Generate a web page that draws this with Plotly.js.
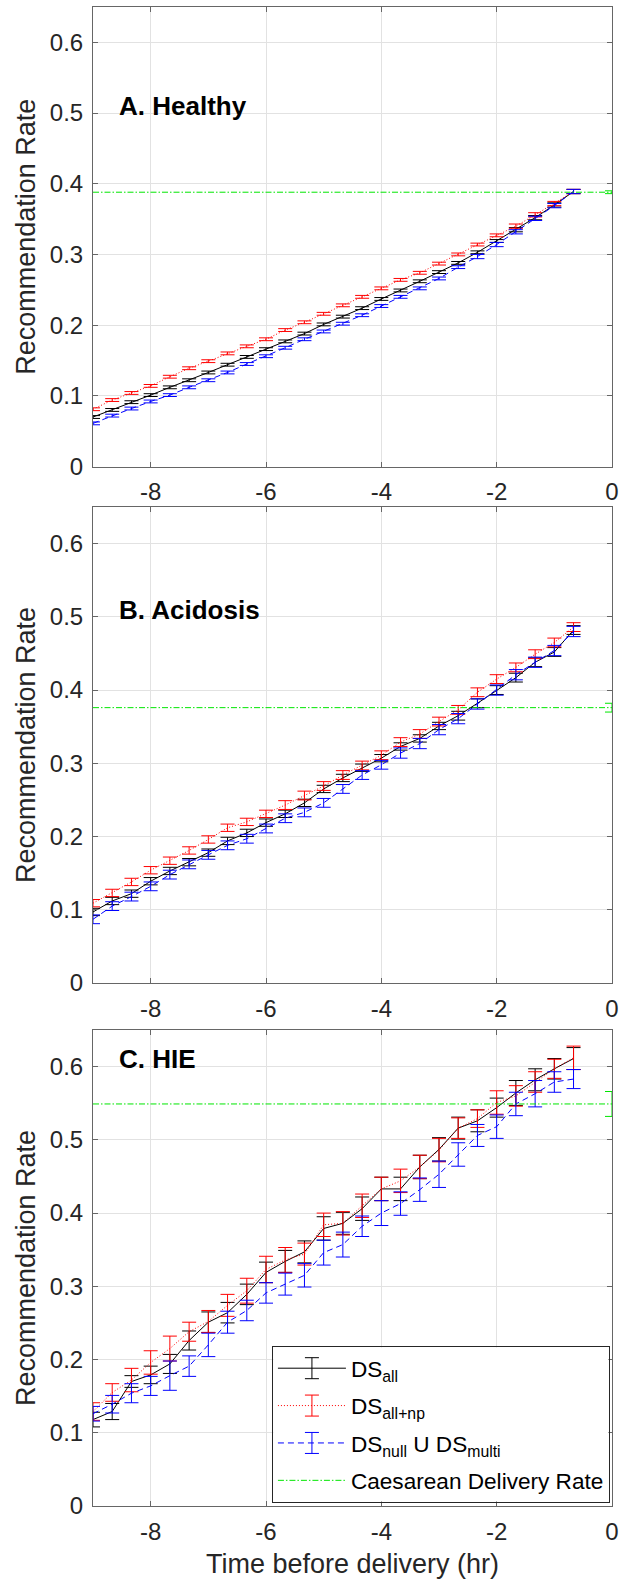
<!DOCTYPE html>
<html>
<head>
<meta charset="utf-8">
<script src="https://cdn.plot.ly/plotly-3.0.1.min.js"></script>
<style>html,body{margin:0;padding:0;background:#fff;} #chart{width:624px;height:1583px;}</style>
</head>
<body>
<div id="chart"></div>
<script>
// ---- data ----
const hours = [-9, -8.667, -8.333, -8, -7.667, -7.333, -7, -6.667, -6.333, -6, -5.667, -5.333, -5,
               -4.667, -4.333, -4, -3.667, -3.333, -3, -2.667, -2.333, -2, -1.667, -1.333, -1, -0.667];
const xTicks = [-8, -6, -4, -2, 0];
const panelTitles = ['A. Healthy', 'B. Acidosis', 'C. HIE'];
const seriesNames = ['DS<sub>all</sub>', 'DS<sub>all+np</sub>', 'DS<sub>null</sub> U DS<sub>multi</sub>', 'Caesarean Delivery Rate'];

// A. Healthy
const healthyAll   = [0.070,0.080,0.091,0.101,0.112,0.122,0.133,0.144,0.155,0.166,0.177,0.188,0.201,0.212,0.224,0.237,0.249,0.262,0.275,0.288,0.303,0.319,0.335,0.352,0.370,0.389];
const healthyAllNp = [0.081,0.094,0.104,0.114,0.127,0.139,0.149,0.160,0.170,0.180,0.193,0.204,0.216,0.228,0.240,0.252,0.264,0.274,0.287,0.300,0.314,0.327,0.340,0.356,0.372,0.389];
const healthyNull  = [0.061,0.072,0.082,0.092,0.101,0.112,0.122,0.133,0.145,0.156,0.168,0.180,0.191,0.202,0.214,0.227,0.240,0.252,0.266,0.282,0.297,0.314,0.332,0.351,0.369,0.389];
const healthyAllErr   = [0.002,0.002,0.002,0.002,0.002,0.002,0.002,0.002,0.002,0.002,0.002,0.002,0.002,0.002,0.002,0.002,0.002,0.002,0.002,0.002,0.002,0.002,0.003,0.003,0.003,0.003];
const healthyAllNpErr = [0.002,0.002,0.002,0.002,0.002,0.002,0.002,0.002,0.002,0.002,0.002,0.002,0.002,0.002,0.002,0.002,0.002,0.002,0.002,0.002,0.002,0.002,0.003,0.003,0.003,0.003];
const healthyNullErr  = [0.002,0.002,0.002,0.002,0.002,0.002,0.002,0.002,0.002,0.002,0.002,0.002,0.002,0.002,0.002,0.002,0.002,0.002,0.002,0.002,0.003,0.003,0.003,0.003,0.003,0.003];

// B. Acidosis
const acidAll   = [0.097,0.112,0.122,0.139,0.153,0.165,0.178,0.194,0.205,0.219,0.231,0.246,0.265,0.280,0.294,0.307,0.323,0.334,0.351,0.365,0.382,0.400,0.417,0.438,0.452,0.482];
const acidAllNp = [0.109,0.123,0.138,0.154,0.167,0.181,0.196,0.212,0.220,0.231,0.243,0.256,0.269,0.284,0.297,0.311,0.329,0.340,0.357,0.373,0.397,0.415,0.431,0.449,0.465,0.486];
const acidNull  = [0.087,0.105,0.118,0.132,0.148,0.162,0.175,0.188,0.197,0.211,0.225,0.233,0.246,0.265,0.284,0.298,0.314,0.327,0.346,0.361,0.381,0.400,0.421,0.438,0.454,0.480];
const acidAllErr   = [0.005,0.005,0.005,0.005,0.005,0.005,0.005,0.005,0.005,0.005,0.005,0.005,0.005,0.005,0.005,0.005,0.005,0.005,0.005,0.006,0.006,0.006,0.006,0.006,0.006,0.006];
const acidAllNpErr = [0.005,0.005,0.005,0.005,0.005,0.005,0.005,0.005,0.005,0.005,0.006,0.006,0.006,0.006,0.006,0.006,0.006,0.006,0.006,0.006,0.006,0.006,0.006,0.006,0.006,0.006];
const acidNullErr  = [0.006,0.006,0.006,0.006,0.006,0.006,0.006,0.006,0.006,0.006,0.006,0.006,0.006,0.006,0.006,0.006,0.007,0.007,0.007,0.007,0.007,0.007,0.007,0.007,0.007,0.007];

// C. HIE
const hieAll   = [0.118,0.129,0.170,0.179,0.194,0.226,0.251,0.264,0.289,0.319,0.334,0.347,0.379,0.386,0.406,0.433,0.433,0.463,0.487,0.516,0.526,0.544,0.564,0.582,0.597,0.611];
const hieAllNp = [0.129,0.155,0.172,0.196,0.215,0.238,0.252,0.274,0.294,0.323,0.336,0.344,0.384,0.386,0.410,0.433,0.444,0.463,0.486,0.516,0.529,0.551,0.560,0.579,0.597,0.612];
const hieNull  = [0.126,0.139,0.154,0.164,0.178,0.191,0.220,0.251,0.267,0.291,0.303,0.315,0.346,0.357,0.382,0.400,0.413,0.432,0.453,0.480,0.506,0.518,0.549,0.563,0.579,0.583];
const hieAllErr   = [0.010,0.011,0.008,0.012,0.013,0.013,0.014,0.014,0.014,0.014,0.015,0.015,0.016,0.015,0.016,0.016,0.016,0.016,0.016,0.015,0.015,0.013,0.017,0.015,0.014,0.015];
const hieAllNpErr = [0.012,0.012,0.016,0.016,0.017,0.013,0.015,0.015,0.017,0.018,0.017,0.015,0.016,0.016,0.016,0.016,0.016,0.016,0.016,0.014,0.012,0.016,0.014,0.014,0.013,0.016];
const hieNullErr  = [0.010,0.012,0.013,0.013,0.020,0.014,0.016,0.015,0.014,0.014,0.015,0.016,0.017,0.017,0.014,0.017,0.016,0.016,0.018,0.016,0.015,0.016,0.016,0.018,0.014,0.013];

// Caesarean delivery rate (value and error) per panel, drawn at x = 0
const caesareanRate = [0.388, 0.376, 0.549];
const caesareanErr  = [0.002, 0.006, 0.017];
const caesareanX = 0;

const panels = [
  {all: healthyAll, np: healthyAllNp, nul: healthyNull, allE: healthyAllErr, npE: healthyAllNpErr, nulE: healthyNullErr},
  {all: acidAll, np: acidAllNp, nul: acidNull, allE: acidAllErr, npE: acidAllNpErr, nulE: acidNullErr},
  {all: hieAll, np: hieAllNp, nul: hieNull, allE: hieAllErr, npE: hieAllNpErr, nulE: hieNullErr}
];

// ---- styling ----
const FONT = 'Liberation Sans, Arial, Helvetica, sans-serif';
const W = 624, H = 1583;
const M = {l: 93, r: 12, t: 7, b: 77};
const plotH = H - M.t - M.b;
const plotW = W - M.l - M.r;
const pxToPaperY = (py) => (H - M.b - py) / plotH;
const pxToPaperX = (px) => (px - M.l) / plotW;
// panel vertical extents in pixels (top, bottom)
const panelPx = [[7, 466.5], [507, 983], [1030, 1506]];

const colors = {all: '#000000', np: '#ff0000', nul: '#0000ff', cd: '#00e600'};
const dashes = {all: 'solid', np: '1px,2px', nul: '6px,4px', cd: '6px,2px,1.5px,2px'};
const CAP = 7;

const traces = [];
panels.forEach((p, i) => {
  const xa = i === 0 ? 'x' : 'x' + (i + 1);
  const ya = i === 0 ? 'y' : 'y' + (i + 1);
  const leg = i === 2;
  const mk = (y, e, key, name, grp) => ({
    type: 'scatter', mode: 'lines', x: hours, y: y, xaxis: xa, yaxis: ya,
    name: name, legendgroup: grp, showlegend: leg,
    line: {color: colors[key], width: 1, dash: dashes[key]},
    error_y: {type: 'data', array: e, visible: true, color: colors[key], thickness: 1, width: CAP}
  });
  traces.push(mk(p.all, p.allE, 'all', seriesNames[0], 'g1'));
  traces.push(mk(p.np, p.npE, 'np', seriesNames[1], 'g2'));
  traces.push(mk(p.nul, p.nulE, 'nul', seriesNames[2], 'g3'));
  traces.push({
    type: 'scatter', mode: 'lines', x: [hours[0], caesareanX], y: [caesareanRate[i], caesareanRate[i]],
    xaxis: xa, yaxis: ya, name: seriesNames[3], legendgroup: 'g4', showlegend: leg,
    line: {color: colors.cd, width: 1, dash: dashes.cd}
  });
  traces.push({
    type: 'scatter', mode: 'markers', x: [caesareanX], y: [caesareanRate[i]], xaxis: xa, yaxis: ya,
    showlegend: false, cliponaxis: false, marker: {size: 1, color: 'rgba(0,0,0,0)'},
    error_y: {type: 'data', array: [caesareanErr[i]], visible: true, color: colors.cd, thickness: 1, width: CAP}
  });
});

const axisLine = '#666666';
const tickFont = {family: FONT, size: 24, color: '#262626'};
const layout = {
  width: W, height: H, margin: M, paper_bgcolor: '#fff', plot_bgcolor: '#fff',
  showlegend: true,
  legend: {
    x: 0.996, y: 0.002, xanchor: 'right', yanchor: 'bottom',
    bgcolor: 'rgba(255,255,255,0)', bordercolor: '#262626', borderwidth: 1,
    font: {family: FONT, size: 22.6, color: '#000'},
    itemwidth: 68, tracegroupgap: 5, traceorder: 'grouped'
  },
  annotations: [], shapes: []
};
for (let i = 0; i < 3; i++) {
  const sfx = i === 0 ? '' : String(i + 1);
  const dom = [pxToPaperY(panelPx[i][1]), pxToPaperY(panelPx[i][0])];
  const xa = {
    anchor: 'y' + sfx, domain: [0, 1], range: [-9, 0], tickvals: xTicks, ticktext: xTicks.map(String),
    showline: true, mirror: 'ticks', linecolor: axisLine, linewidth: 1,
    ticks: 'inside', ticklen: 5, tickcolor: axisLine, tickwidth: 1,
    showgrid: true, gridcolor: '#e2e2e2', gridwidth: 1, zeroline: false,
    tickfont: tickFont, ticklabelstandoff: 4
  };
  if (i === 2) xa.title = {text: 'Time before delivery (hr)', font: {family: FONT, size: 27, color: '#262626'}, standoff: 10};
  layout['xaxis' + sfx] = xa;
  layout['yaxis' + sfx] = {
    anchor: 'x' + sfx, domain: dom, range: [0, 0.65], tick0: 0, dtick: 0.1,
    showline: true, mirror: 'ticks', linecolor: axisLine, linewidth: 1,
    ticks: 'inside', ticklen: 5, tickcolor: axisLine, tickwidth: 1,
    showgrid: true, gridcolor: '#e2e2e2', gridwidth: 1, zeroline: false,
    tickfont: tickFont, ticklabelstandoff: 4,
    title: {text: 'Recommendation Rate', font: {family: FONT, size: 27, color: '#262626'}, standoff: 6}
  };
  layout.annotations.push({
    xref: 'x' + sfx, yref: 'y' + sfx, x: -8.58, y: i === 2 ? 0.61 : 0.51,
    xanchor: 'left', yanchor: 'middle', showarrow: false,
    text: '<b>' + panelTitles[i] + '</b>', font: {family: FONT, size: 26, color: '#000'}
  });
}

Plotly.newPlot('chart', traces, layout, {displayModeBar: false, staticPlot: true}).then(gd => {
  // white backing for the legend and error-bar glyphs on the legend samples
  const root = gd.getBoundingClientRect();
  const bgEl = gd.querySelector('.legend rect.bg');
  if (!bgEl) return;
  const bg = bgEl.getBoundingClientRect();
  const shapes = [{
    type: 'rect', xref: 'paper', yref: 'paper', layer: 'above',
    x0: pxToPaperX(bg.left - root.left + 1), x1: pxToPaperX(bg.right - root.left - 1),
    y0: pxToPaperY(bg.bottom - root.top - 1), y1: pxToPaperY(bg.top - root.top + 1),
    fillcolor: '#ffffff', line: {width: 0}
  }];
  gd.querySelectorAll('.legend .traces').forEach(it => {
    const d = it.__data__ && it.__data__[0];
    const tr = d && d.trace;
    if (!tr || !tr.error_y || !tr.error_y.visible) return;
    const ln = it.querySelector('path.js-line');
    if (!ln) return;
    const r = ln.getBoundingClientRect();
    const cx = (r.left + r.right) / 2 - root.left;
    const cy = (r.top + r.bottom) / 2 - root.top;
    const base = {xref: 'paper', yref: 'paper', xsizemode: 'pixel', ysizemode: 'pixel',
                  xanchor: pxToPaperX(cx), yanchor: pxToPaperY(cy),
                  type: 'line', line: {color: tr.line.color, width: 1}, layer: 'above'};
    shapes.push(Object.assign({}, base, {x0: 0, x1: 0, y0: -10.5, y1: 10.5}));
    shapes.push(Object.assign({}, base, {x0: -CAP, x1: CAP, y0: 10.5, y1: 10.5}));
    shapes.push(Object.assign({}, base, {x0: -CAP, x1: CAP, y0: -10.5, y1: -10.5}));
  });
  return Plotly.relayout(gd, {shapes: shapes});
});
</script>
</body>
</html>
